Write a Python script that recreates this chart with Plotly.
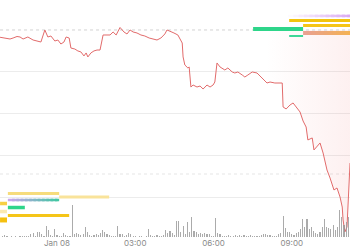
import pandas as pd
import plotly.graph_objects as go

DAY = pd.Timestamp("2024-01-08 00:00")

# ---- price line: minutes from Jan 08 00:00, price ----
price_min = [-131, -120, -108, -101, -92, -85, -78, -67, -55, -46, -37, -28, -21, -14, -5, 2, 9, 16, 21, 28,
             32, 41, 48, 55, 62, 67, 71, 78, 85, 92, 99, 106, 113, 122, 129, 136, 145, 154, 161, 168,
             175, 184, 193, 202, 212, 221, 230, 239, 248, 253, 260, 269, 278, 288, 290, 294, 301, 304, 308, 313,
             322, 329, 336, 345, 352, 359, 363, 368, 375, 386, 393, 403, 409, 416, 426, 432, 439, 449, 460, 472,
             483, 490, 501, 518, 520, 527, 536, 543, 552, 559, 566, 573, 577, 587, 591, 598, 605, 612, 621, 628,
             637, 644, 651, 656, 658, 662, 667, 674]
price_val = [3.3913, 3.3904, 3.3892, 3.3904, 3.3922, 3.3916, 3.3892, 3.3916, 3.3880, 3.3868, 3.3856, 3.4000,
             3.3916, 3.3928, 3.3868, 3.3880, 3.3832, 3.3856, 3.3916, 3.3904, 3.3784, 3.3772, 3.3749, 3.3737,
             3.3689, 3.3725, 3.3677, 3.3725, 3.3749, 3.3760, 3.3760, 3.3940, 3.3940, 3.3940, 3.3976, 3.3940,
             3.4030, 3.3976, 3.3952, 3.4000, 3.3976, 3.3964, 3.3940, 3.3928, 3.3904, 3.3892, 3.3880, 3.3904,
             3.3952, 3.4000, 3.3988, 3.3964, 3.3940, 3.3844, 3.3677, 3.3581, 3.3545, 3.3557, 3.3317, 3.3341,
             3.3317, 3.3329, 3.3293, 3.3341, 3.3317, 3.3341, 3.3377, 3.3605, 3.3557, 3.3521, 3.3545, 3.3497,
             3.3485, 3.3497, 3.3461, 3.3437, 3.3461, 3.3497, 3.3485, 3.3425, 3.3365, 3.3377, 3.3365, 3.3365,
             3.3078, 3.3054, 3.3102, 3.3126, 3.3066, 3.3018, 3.2910, 3.2838, 3.2683, 3.2707, 3.2563, 3.2599,
             3.2647, 3.2527, 3.2323, 3.2228, 3.2084, 3.2108, 3.2000, 3.1880, 3.1725, 3.1581, 3.1641, 3.2407]

BASE_PRICE = 3.40
REF_PRICE_2 = 3.2275

# ---- 5-minute volume bars from Jan 07 21:50 ----
vol_start = "2024-01-07 21:50"
volume = [0.5, 1, 2, 1, 0.5, 1, 0.5, 1, 0.5, 1, 1, 1, 1, 1, 3, 4, 1, 5, 5, 3,
          1, 11, 7, 2, 1, 8, 2, 1, 1, 4, 2, 1, 1, 32, 3, 4, 3, 2, 3, 10,
          5, 2, 1, 2, 3, 2, 4, 7, 5, 3, 2, 1, 1, 1, 11, 3, 3, 1, 2, 4,
          3, 1, 1, 0.5, 1, 1, 0.5, 1, 8, 2, 1, 1, 2, 1, 1, 2, 7, 4, 6, 4,
          2, 16, 16, 5, 11, 3, 15, 5, 20, 6, 5, 3, 4, 3, 4, 3, 3, 1, 1, 19,
          4, 3, 1, 1, 1, 2, 1, 1, 2, 1, 2, 1, 2, 1, 1, 2, 1, 1, 1, 1,
          2, 3, 3, 2, 2, 1, 1, 1, 3, 4, 21, 9, 5, 5, 3, 2, 4, 5, 8, 18,
          10, 18, 8, 10, 6, 4, 3, 5, 10, 18, 10, 9, 8, 12, 7, 10, 27, 20, 12, 15, 20]

# ---- horizontal level bars: start min, end min, price, color start, color end, thickness ----
lvl_start = [-113, 5, -113, -131, -113, -131, -113, -131, 531, 534, 566, 451, 566, 534]
lvl_end = [5, 120, 5, -115, -74, -115, 28, -115, 680, 680, 680, 566, 680, 566]
lvl_price = [3.2042, 3.2000, 3.1964, 3.1922, 3.1874, 3.1826, 3.1778, 3.1725,
             3.4168, 3.4114, 3.4054, 3.4012, 3.3964, 3.3928]
lvl_c0 = ["#f6dc7c", "#f9e39a", "#cda4ee", "#f7cf44", "#2ed58a", "#fbe9b0", "#f5c518", "#f5c010",
          "#ffffff", "#f2c40f", "#f5c518", "#2ed58a", "#e8a094", "#3ed898"]
lvl_c1 = ["#f6dc7c", "#f9e39a", "#3cc8a0", "#f7cf44", "#2ed58a", "#fbe9b0", "#f5c518", "#f5c010",
          "#d8a6f2", "#f2c40f", "#f5c518", "#2ed58a", "#f5b24e", "#3ed898"]
lvl_w = [3, 3, 2.5, 3.5, 3.5, 3.5, 3, 5, 2.5, 3, 3, 4, 4, 2]

tick_min = [0, 180, 360, 540]
tick_txt = ["Jan 08", "03:00", "06:00", "09:00"]

X0 = DAY + pd.Timedelta(minutes=-131.1)
X1 = DAY + pd.Timedelta(minutes=673.9)


def t(m):
    return DAY + pd.Timedelta(minutes=m)


def hex2rgb(h):
    h = h.lstrip("#")
    return tuple(int(h[i:i + 2], 16) for i in (0, 2, 4))


fig = go.Figure()

vol_t = pd.date_range(vol_start, periods=len(volume), freq="5min")
fig.add_trace(go.Bar(x=vol_t, y=volume, yaxis="y2", marker=dict(color="rgba(150,150,150,0.8)", line=dict(width=0)),
                     width=160000, hoverinfo="skip"))

# reference dotted lines
fig.add_trace(go.Scatter(x=[X0, X1], y=[REF_PRICE_2, REF_PRICE_2], mode="lines",
                         line=dict(color="rgba(205,205,205,0.5)", width=1, dash="dot"), hoverinfo="skip"))

ptimes = [t(m) for m in price_min]
fig.add_trace(go.Scatter(x=[ptimes[0], ptimes[-1]], y=[BASE_PRICE, BASE_PRICE], mode="lines",
                         line=dict(color="rgba(205,205,205,0.9)", width=1, dash="dot"), hoverinfo="skip"))
fig.add_trace(go.Scatter(x=ptimes, y=price_val, mode="lines", fill="tonexty",
                         fillgradient=dict(type="horizontal",
                                           colorscale=[[0, "rgba(240,90,90,0)"], [0.76, "rgba(240,90,90,0)"],
                                                       [1, "rgba(240,90,90,0.09)"]]),
                         line=dict(color="#e26b6b", width=1), hoverinfo="skip"))

# level bars (gradient ones split into overlapping pieces)
for s, e, p, c0, c1, w in zip(lvl_start, lvl_end, lvl_price, lvl_c0, lvl_c1, lvl_w):
    n = 1 if c0 == c1 else 12
    r0, r1 = hex2rgb(c0), hex2rgb(c1)
    step = (e - s) / n
    for k in range(n):
        a = s + step * k
        b = min(e, a + step * 1.6)
        f = (k + 0.5) / n
        col = "rgb(%d,%d,%d)" % tuple(round(r0[j] + (r1[j] - r0[j]) * f) for j in range(3))
        fig.add_trace(go.Scatter(x=[t(a), t(b)], y=[p, p], mode="lines",
                                 line=dict(color=col, width=w), hoverinfo="skip"))

fig.update_layout(
    width=350, height=250, margin=dict(l=0, r=0, t=0, b=13),
    paper_bgcolor="white", plot_bgcolor="white", showlegend=False, bargap=0,
    font=dict(family="Inter, Roboto, sans-serif", size=8, color="#8a8a8a"),
    xaxis=dict(type="date", range=[X0, X1], showgrid=False, zeroline=False, showline=False,
               tickvals=[t(m) for m in tick_min], ticktext=tick_txt, ticks="", tickfont=dict(size=8, color="#8a8a8a")),
    yaxis=dict(range=[3.1521, 3.4359], tickvals=[3.20, 3.25, 3.30, 3.35], showticklabels=False,
               showgrid=True, gridcolor="#ececec", gridwidth=1, zeroline=False),
    yaxis2=dict(range=[0, 237], overlaying="y", showgrid=False, showticklabels=False, zeroline=False),
)

fig.write_html("out.html")
